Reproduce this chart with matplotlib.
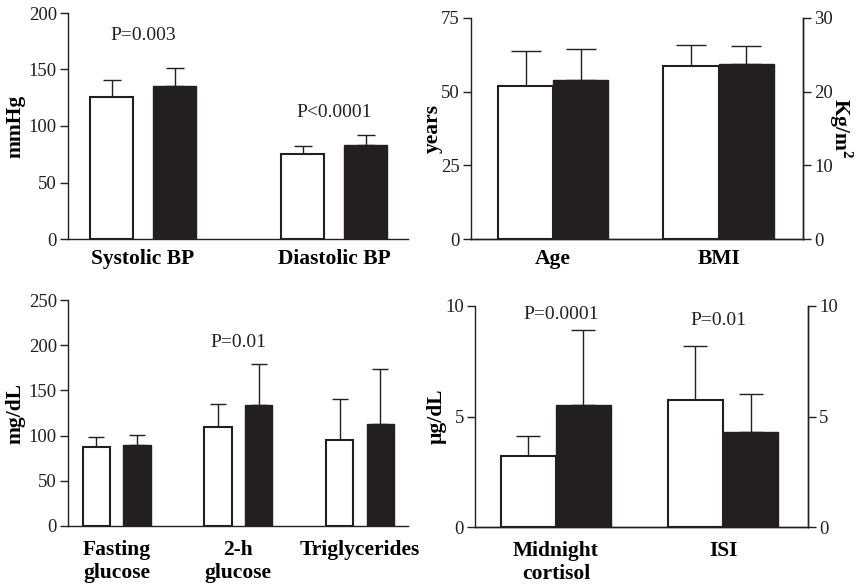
import matplotlib
matplotlib.use("Agg")
import matplotlib.pyplot as plt

plt.rcParams["font.family"] = ["Liberation Serif", "DejaVu Serif"]
plt.rcParams["mathtext.fontset"] = "custom"
plt.rcParams["mathtext.rm"] = "Liberation Serif"
plt.rcParams["mathtext.bf"] = "Liberation Serif:bold"

INK = "#231f20"

# Blood pressure (mmHg)
bp_labels = ["Systolic BP", "Diastolic BP"]
bp_open = [125.4, 75.5]
bp_open_sd = [15.3, 6.8]
bp_filled = [135.7, 83.5]
bp_filled_sd = [15.3, 8.8]
bp_pvalues = ["P=0.003", "P<0.0001"]
bp_p_height = [180, 112]

# Age (years, left axis) and BMI (Kg/m2, right axis)
age_open, age_open_sd = 52.0, 11.7
age_filled, age_filled_sd = 53.9, 10.6
bmi_open, bmi_open_sd = 23.5, 2.8
bmi_filled, bmi_filled_sd = 23.8, 2.4
anthro_labels = ["Age", "BMI"]

# Glucose and triglycerides (mg/dL)
met_labels = ["Fasting\nglucose", "2-h\nglucose", "Triglycerides"]
met_open = [87.7, 109.8, 95.5]
met_open_sd = [10.8, 25.5, 45.3]
met_filled = [90.0, 134.2, 112.5]
met_filled_sd = [10.3, 44.7, 61.5]
met_pvalues = ["", "P=0.01", ""]
met_p_height = [0, 203, 0]

# Midnight cortisol (ug/dL, left axis) and ISI (right axis)
cort_open, cort_open_sd = 3.21, 0.89
cort_filled, cort_filled_sd = 5.54, 3.37
isi_open, isi_open_sd = 5.73, 2.46
isi_filled, isi_filled_sd = 4.32, 1.70
hormone_labels = ["Midnight\ncortisol", "ISI"]
hormone_pvalues = ["P=0.0001", "P=0.01"]
hormone_p_height = [9.6, 9.35]

TICK_SIZE = 13.5
LABEL_SIZE = 15.5
P_SIZE = 14


def add_axes_px(fig, left, top, right, bottom):
    return fig.add_axes([left / 859, 1 - bottom / 584,
                         (right - left) / 859, (bottom - top) / 584])


def draw_group(ax, x, open_val, open_sd, filled_val, filled_sd,
               width, offset, capsize):
    ax.errorbar([x - offset, x + offset], [open_val, filled_val],
                yerr=[[0, 0], [open_sd, filled_sd]], fmt="none", ecolor=INK,
                elinewidth=1.0, capsize=capsize, capthick=1.0, zorder=2)
    ax.bar(x - offset, open_val, width, color="white", edgecolor=INK,
           linewidth=1.5, zorder=3)
    ax.bar(x + offset, filled_val, width, color=INK, edgecolor=INK,
           linewidth=1.0, zorder=3)


def style(ax, right=False, xpad=7):
    ax.spines["top"].set_visible(False)
    if not right:
        ax.spines["right"].set_visible(False)
    for side in ("left", "bottom", "right"):
        ax.spines[side].set_color(INK)
        ax.spines[side].set_linewidth(1.0)
    ax.tick_params(axis="y", direction="out", length=6, width=1.0,
                   labelsize=TICK_SIZE, pad=2, colors=INK)
    ax.tick_params(axis="x", length=0, labelsize=LABEL_SIZE, pad=xpad,
                   colors="black")
    for lab in ax.get_xticklabels():
        lab.set_fontweight("bold")
        lab.set_linespacing(1.2)


def ylabel(ax, text, xfrac):
    ax.set_ylabel(text, fontsize=LABEL_SIZE, fontweight="bold", color="black",
                  va="center")
    ax.yaxis.set_label_coords(xfrac, 0.5)


fig = plt.figure(figsize=(8.59, 5.84), dpi=100)

# Top left: blood pressure
ax1 = add_axes_px(fig, 68, 13, 408, 239)
for i in range(len(bp_labels)):
    draw_group(ax1, i, bp_open[i], bp_open_sd[i], bp_filled[i],
               bp_filled_sd[i], 0.225, 0.165, 6.8)
    ax1.text(i, bp_p_height[i], bp_pvalues[i], ha="center", va="center",
             fontsize=P_SIZE, color=INK)
ax1.set_xlim(-0.393, 1.387)
ax1.set_ylim(0, 200)
ax1.set_yticks([0, 50, 100, 150, 200])
ax1.set_xticks(range(len(bp_labels)))
ax1.set_xticklabels(bp_labels)
style(ax1)
ylabel(ax1, "mmHg", -0.155)

# Top right: age and BMI
ax2 = add_axes_px(fig, 471, 18, 803, 239)
ax2r = ax2.twinx()
draw_group(ax2, 0, age_open, age_open_sd, age_filled, age_filled_sd,
           0.334, 0.167, 10.8)
draw_group(ax2r, 1, bmi_open, bmi_open_sd, bmi_filled, bmi_filled_sd,
           0.334, 0.167, 10.8)
ax2.set_xlim(-0.497, 1.51)
ax2.set_ylim(0, 75)
ax2r.set_ylim(0, 30)
ax2.set_yticks([0, 25, 50, 75])
ax2r.set_yticks([0, 10, 20, 30])
ax2.set_xticks(range(len(anthro_labels)))
ax2.set_xticklabels(anthro_labels)
style(ax2, right=True)
style(ax2r, right=True)
ax2r.spines["left"].set_visible(False)
ylabel(ax2, "years", -0.115)
ax2r.set_ylabel("Kg/m$^{\\mathbf{2}}$", fontsize=LABEL_SIZE,
                fontweight="bold", rotation=270, va="center")
ax2r.yaxis.set_label_coords(1.115, 0.5)

# Bottom left: glucose and triglycerides
ax3 = add_axes_px(fig, 68, 300, 408, 526)
for i in range(len(met_labels)):
    draw_group(ax3, i, met_open[i], met_open_sd[i], met_filled[i],
               met_filled_sd[i], 0.224, 0.168, 5.8)
    if met_pvalues[i]:
        ax3.text(i, met_p_height[i], met_pvalues[i], ha="center",
                 va="center", fontsize=P_SIZE, color=INK)
ax3.set_xlim(-0.40, 2.394)
ax3.set_ylim(0, 250)
ax3.set_yticks([0, 50, 100, 150, 200, 250])
ax3.set_xticks(range(len(met_labels)))
ax3.set_xticklabels(met_labels)
style(ax3, xpad=10)
ylabel(ax3, "mg/dL", -0.155)

# Bottom right: midnight cortisol and ISI
ax4 = add_axes_px(fig, 475, 306, 808, 527)
ax4r = ax4.twinx()
draw_group(ax4, 0, cort_open, cort_open_sd, cort_filled, cort_filled_sd,
           0.33, 0.165, 8.6)
draw_group(ax4r, 1, isi_open, isi_open_sd, isi_filled, isi_filled_sd,
           0.33, 0.165, 8.6)
for i in range(len(hormone_labels)):
    ax4.text(i + 0.03 * (1 - 2 * i), hormone_p_height[i], hormone_pvalues[i],
             ha="center", va="center", fontsize=P_SIZE, color=INK)
ax4.set_xlim(-0.484, 1.508)
ax4.set_ylim(0, 10)
ax4r.set_ylim(0, 10)
ax4.set_yticks([0, 5, 10])
ax4r.set_yticks([0, 5, 10])
ax4.set_xticks(range(len(hormone_labels)))
ax4.set_xticklabels(hormone_labels)
style(ax4, right=True, xpad=10)
style(ax4r, right=True, xpad=10)
ax4r.spines["left"].set_visible(False)
ylabel(ax4, "\u00b5g/dL", -0.115)

fig.savefig("out.png", dpi=100)
